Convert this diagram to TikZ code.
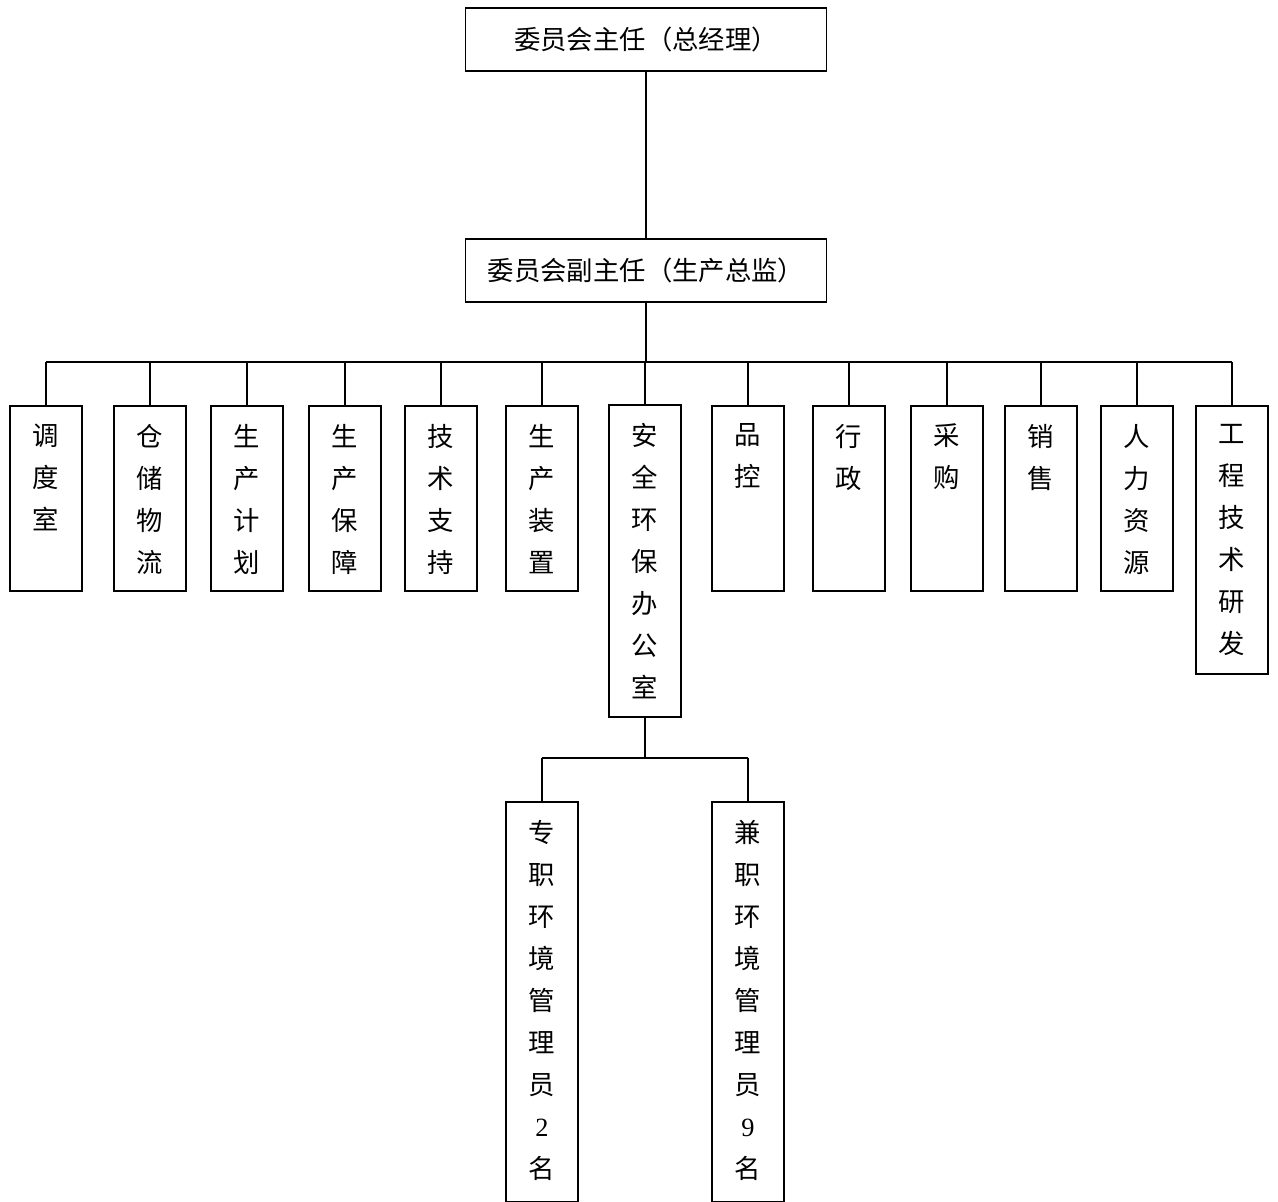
\documentclass[tikz,border=0pt]{standalone}
\usepackage{fontspec}
\setmainfont{Liberation Serif}
\newfontfamily\cjk{Noto Sans CJK SC}
\usepackage{tikz}
\usetikzlibrary{positioning}

\begin{document}
\begin{tikzpicture}[line width=1.1pt,
  every node/.style={font=\fontsize{15}{23.9}\selectfont\cjk},
  head/.style={draw, minimum width=7.22cm, minimum height=1.26cm, inner sep=0pt},
  unit/.style={draw, anchor=north, minimum width=1.44cm, minimum height=3.7cm, inner sep=0pt},
  ttl/.style={anchor=north, yshift=-0.36cm, align=center, inner sep=0pt}]
  \useasboundingbox (0,0) rectangle (25.56,-24.04);

  % leadership
  \node[head] (gm) at (12.92,-0.79) {委员会主任（总经理）};
  \node[head, below=3.32cm of gm] (vp) {委员会副主任（生产总监）};

  % departments
  \node[unit, label={[ttl]north:调\\度\\室}] (ddsh) at (0.92,-8.1) {};
  \node[unit, label={[ttl]north:仓\\储\\物\\流}] (ccwl) at (3.00,-8.1) {};
  \node[unit, label={[ttl]north:生\\产\\计\\划}] (scjh) at (4.94,-8.1) {};
  \node[unit, label={[ttl]north:生\\产\\保\\障}] (scbz) at (6.90,-8.1) {};
  \node[unit, label={[ttl]north:技\\术\\支\\持}] (jszc) at (8.82,-8.1) {};
  \node[unit, label={[ttl]north:生\\产\\装\\置}] (sczz) at (10.84,-8.1) {};
  \node[unit, minimum height=6.24cm, label={[ttl]north:安\\全\\环\\保\\办\\公\\室}] (ahb) at (12.90,-8.08) {};
  \node[unit, label={[ttl]north:品\\控}] (pk) at (14.96,-8.1) {};
  \node[unit, label={[ttl]north:行\\政}] (xz) at (16.98,-8.1) {};
  \node[unit, label={[ttl]north:采\\购}] (cg) at (18.94,-8.1) {};
  \node[unit, label={[ttl]north:销\\售}] (xs) at (20.82,-8.1) {};
  \node[unit, label={[ttl]north:人\\力\\资\\源}] (rlzy) at (22.74,-8.1) {};
  \node[unit, minimum height=5.36cm, label={[ttl]north:工\\程\\技\\术\\研\\发}] (gcyf) at (24.64,-8.1) {};

  % environment staff
  \node[unit, minimum height=8.0cm, label={[ttl]north:专\\职\\环\\境\\管\\理\\员\\\textrm{2}\\名}] (zzy) at (10.84,-16.02) {};
  \node[unit, minimum height=8.0cm, label={[ttl]north:兼\\职\\环\\境\\管\\理\\员\\\textrm{9}\\名}] (jzy) at (14.96,-16.02) {};

  \coordinate (bus) at (0,-7.24);
  \coordinate (sub) at (0,-15.16);

  \draw (gm.south) -- (vp.north);
  \draw (vp.south) -- (vp.south |- bus);
  \draw (ddsh.north |- bus) -- (gcyf.north |- bus);
  \foreach \d in {ddsh,ccwl,scjh,scbz,jszc,sczz,ahb,pk,xz,cg,xs,rlzy,gcyf}
    \draw (\d.north |- bus) -- (\d.north);
  \draw (ahb.south) -- (ahb.south |- sub);
  \draw (zzy.north |- sub) -- (jzy.north |- sub);
  \foreach \d in {zzy,jzy}
    \draw (\d.north |- sub) -- (\d.north);
\end{tikzpicture}
\end{document}
